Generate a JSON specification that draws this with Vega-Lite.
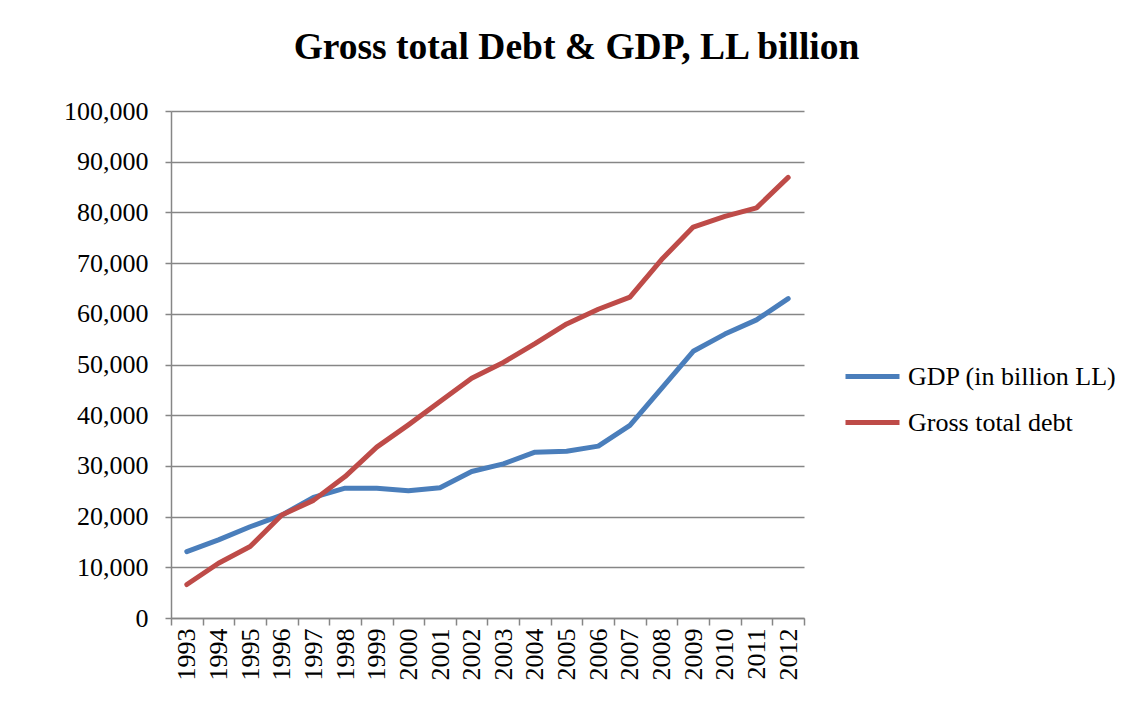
{
  "$schema": "https://vega.github.io/schema/vega-lite/v6.json",
  "autosize": {"type": "none"},
  "width": 633,
  "height": 507,
  "padding": {"left": 171, "top": 111, "right": 335, "bottom": 102},
  "background": "white",
  "title": {
    "text": "Gross total Debt & GDP, LL billion",
    "font": "Liberation Serif",
    "fontSize": 37.5,
    "fontWeight": "bold",
    "color": "black",
    "anchor": "middle",
    "frame": "group",
    "dx": 89,
    "offset": 32
  },
  "config": {
    "view": {"stroke": null},
    "axis": {
      "labelFont": "Liberation Serif",
      "labelFontSize": 26,
      "labelColor": "black",
      "domainColor": "#868686",
      "domainWidth": 1.5,
      "tickColor": "#868686",
      "tickWidth": 1.5,
      "gridColor": "#868686",
      "gridWidth": 1.5,
      "titleFont": "Liberation Serif"
    },
    "legend": {
      "labelFont": "Liberation Serif",
      "labelFontSize": 26,
      "labelColor": "black",
      "labelLimit": 0
    }
  },
  "data": {
    "values": [
      {"year": "1993", "series": "GDP (in billion LL)", "value": 13100},
      {"year": "1994", "series": "GDP (in billion LL)", "value": 15400},
      {"year": "1995", "series": "GDP (in billion LL)", "value": 18000},
      {"year": "1996", "series": "GDP (in billion LL)", "value": 20300},
      {"year": "1997", "series": "GDP (in billion LL)", "value": 23800},
      {"year": "1998", "series": "GDP (in billion LL)", "value": 25600},
      {"year": "1999", "series": "GDP (in billion LL)", "value": 25600},
      {"year": "2000", "series": "GDP (in billion LL)", "value": 25100},
      {"year": "2001", "series": "GDP (in billion LL)", "value": 25700},
      {"year": "2002", "series": "GDP (in billion LL)", "value": 28900},
      {"year": "2003", "series": "GDP (in billion LL)", "value": 30400},
      {"year": "2004", "series": "GDP (in billion LL)", "value": 32700},
      {"year": "2005", "series": "GDP (in billion LL)", "value": 32900},
      {"year": "2006", "series": "GDP (in billion LL)", "value": 33900},
      {"year": "2007", "series": "GDP (in billion LL)", "value": 38000},
      {"year": "2008", "series": "GDP (in billion LL)", "value": 45300},
      {"year": "2009", "series": "GDP (in billion LL)", "value": 52600},
      {"year": "2010", "series": "GDP (in billion LL)", "value": 56000},
      {"year": "2011", "series": "GDP (in billion LL)", "value": 58800},
      {"year": "2012", "series": "GDP (in billion LL)", "value": 63000},
      {"year": "1993", "series": "Gross total debt", "value": 6600},
      {"year": "1994", "series": "Gross total debt", "value": 10800},
      {"year": "1995", "series": "Gross total debt", "value": 14100},
      {"year": "1996", "series": "Gross total debt", "value": 20300},
      {"year": "1997", "series": "Gross total debt", "value": 23200},
      {"year": "1998", "series": "Gross total debt", "value": 27900},
      {"year": "1999", "series": "Gross total debt", "value": 33700},
      {"year": "2000", "series": "Gross total debt", "value": 38100},
      {"year": "2001", "series": "Gross total debt", "value": 42700},
      {"year": "2002", "series": "Gross total debt", "value": 47300},
      {"year": "2003", "series": "Gross total debt", "value": 50400},
      {"year": "2004", "series": "Gross total debt", "value": 54100},
      {"year": "2005", "series": "Gross total debt", "value": 58000},
      {"year": "2006", "series": "Gross total debt", "value": 60900},
      {"year": "2007", "series": "Gross total debt", "value": 63300},
      {"year": "2008", "series": "Gross total debt", "value": 70700},
      {"year": "2009", "series": "Gross total debt", "value": 77100},
      {"year": "2010", "series": "Gross total debt", "value": 79200},
      {"year": "2011", "series": "Gross total debt", "value": 80900},
      {"year": "2012", "series": "Gross total debt", "value": 86900}
    ]
  },
  "mark": {"type": "line", "strokeWidth": 5, "strokeCap": "round", "strokeJoin": "round"},
  "encoding": {
    "x": {
      "field": "year",
      "type": "ordinal",
      "bandPosition": 0.5,
      "scale": {"type": "band", "paddingInner": 0, "paddingOuter": 0},
      "axis": {
        "title": null,
        "labelAngle": 270,
        "labelAlign": "right",
        "labelBaseline": "middle",
        "labelPadding": 3,
        "tickBand": "extent",
        "tickSize": 7,
        "grid": false
      }
    },
    "y": {
      "field": "value",
      "type": "quantitative",
      "scale": {"domain": [0, 100000], "nice": false},
      "axis": {
        "title": null,
        "values": [0, 10000, 20000, 30000, 40000, 50000, 60000, 70000, 80000, 90000, 100000],
        "format": ",d",
        "tickSize": 6,
        "labelPadding": 17,
        "grid": true
      }
    },
    "color": {
      "field": "series",
      "type": "nominal",
      "scale": {"domain": ["GDP (in billion LL)", "Gross total debt"], "range": ["#4A7EBB", "#BE4B48"]},
      "legend": {
        "title": null,
        "orient": "none",
        "legendX": 672,
        "legendY": 236,
        "symbolType": "stroke",
        "symbolStrokeWidth": 5,
        "symbolSize": 2916,
        "labelOffset": 6,
        "rowPadding": 3
      }
    }
  }
}
